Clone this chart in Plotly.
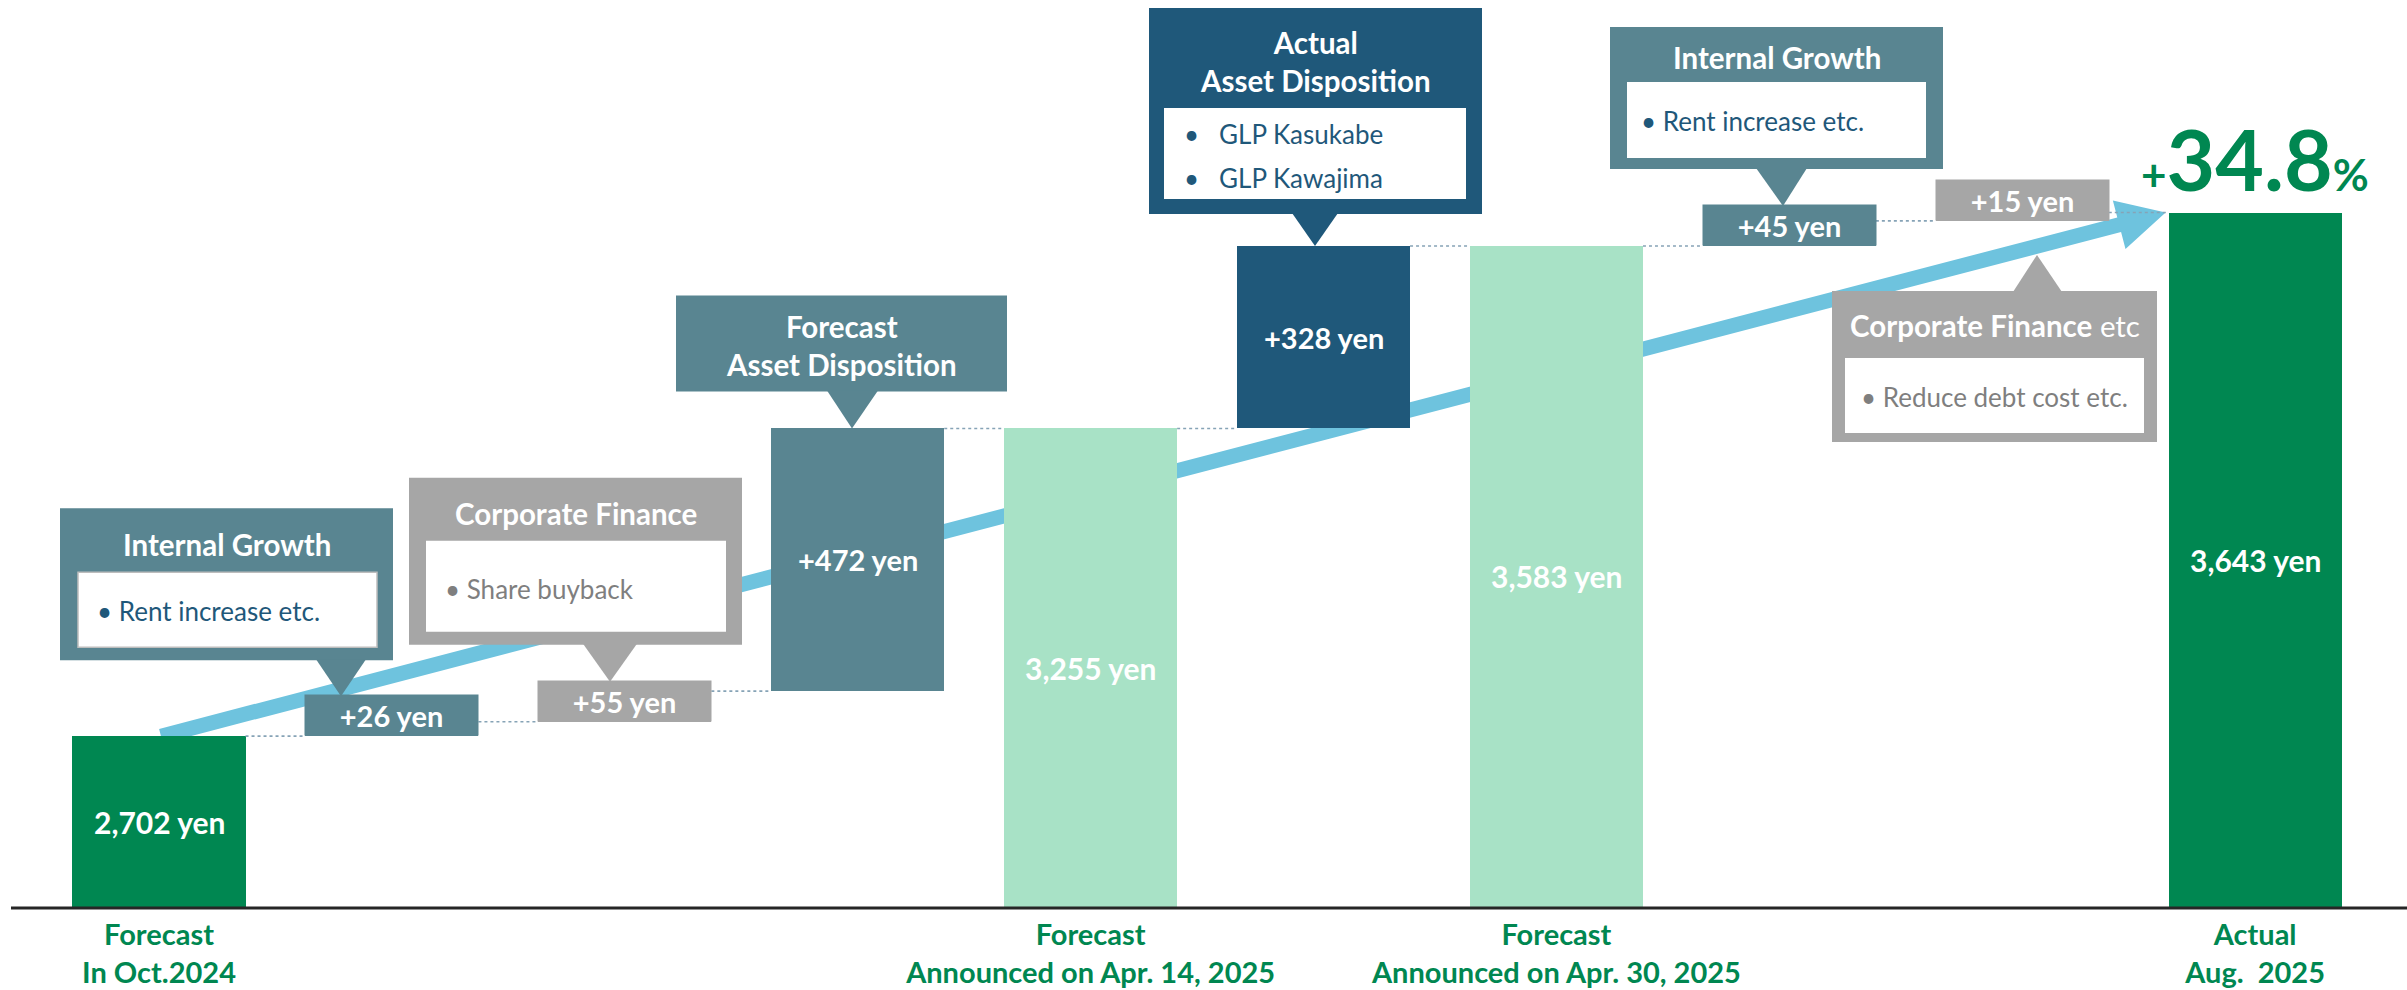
import math
import plotly.graph_objects as go

# ---------------- data ----------------
categories = [
    "Forecast In Oct.2024", "Internal Growth (1)", "Corporate Finance (1)",
    "Forecast Asset Disposition", "Forecast Apr. 14, 2025", "Actual Asset Disposition",
    "Forecast Apr. 30, 2025", "Internal Growth (2)", "Corporate Finance etc", "Actual Aug. 2025",
]
values = [2702, 26, 55, 472, 3255, 328, 3583, 45, 15, 3643]
kinds = ["total", "delta", "delta", "delta", "total", "delta", "total", "delta", "delta", "total"]
tick_labels = [
    "Forecast<br>In Oct.2024", "", "", "",
    "Forecast<br>Announced on Apr. 14, 2025", "",
    "Forecast<br>Announced on Apr. 30, 2025", "", "",
    "Actual<br>Aug.\u00a0 2025",
]

# ---------------- styles ----------------
GREEN = "#008751"
MINT = "#A8E2C6"
TEAL = "#598591"
NAVY = "#1F587A"
GRAY = "#A6A6A6"
ARROW = "#6EC3DE"
bar_colors = [GREEN, TEAL, GRAY, TEAL, MINT, NAVY, MINT, TEAL, GRAY, GREEN]
FONT = "Lato"

W, H = 2407, 990
PLOT_H = 907
Y_MIN, Y_MAX = 2395, 4025
X_MIN, X_MAX = -0.6827, 9.652
BAR_W = 0.743
SLOT_PX = W / (X_MAX - X_MIN)

# ---------------- waterfall geometry from data ----------------
bases, tops = [], []
running = 0
for v, k in zip(values, kinds):
    if k == "total":
        bases.append(0)
        running = v
    else:
        bases.append(running)
        running += v
    tops.append(running)


def ypx(v):
    return PLOT_H - (v - Y_MIN) * PLOT_H / (Y_MAX - Y_MIN)


def xpx(i):
    return (i - X_MIN) * SLOT_PX


def fx(p):
    return p / W


def fy(p):
    return 1 - p / H


xs = list(range(len(values)))
fig = go.Figure()
fig.add_trace(go.Bar(
    x=xs, y=values, base=bases, width=BAR_W,
    marker=dict(color=bar_colors, line=dict(width=0)),
    hovertext=categories, hoverinfo="text+y",
))

# connectors
cx, cy = [], []
for i in range(len(values) - 1):
    cx += [i + BAR_W / 2, i + 1 - BAR_W / 2, None]
    cy += [tops[i], tops[i], None]
fig.add_trace(go.Scatter(x=cx, y=cy, mode="lines",
                         line=dict(color="#86A3B6", width=1.6, dash="dot"),
                         hoverinfo="skip"))

shapes, annotations = [], []

# labels
BADGE_H, BADGE_PAD = 34, 3
BADGE_TOTAL = BADGE_H + 2 * BADGE_PAD
thin = []
for i, (v, k) in enumerate(zip(values, kinds)):
    if k == "total":
        txt = f"{v:,} yen"
        mid = (Y_MIN + v) / 2
        size = 30
    else:
        txt = f"+{v} yen"
        mid = bases[i] + v / 2
        size = 29
    hpx = ypx(bases[i] if k == "delta" else Y_MIN) - ypx(tops[i])
    is_thin = hpx < 60
    thin.append(is_thin)
    ann = dict(x=i, y=mid, xref="x", yref="y", text=txt, showarrow=False,
               font=dict(family=FONT, size=size, color="white", weight="bold"),
               xanchor="center", yanchor="middle")
    if is_thin:
        # label tag sitting on the step's base level
        ann.update(y=bases[i], yanchor="bottom", bgcolor=bar_colors[i], borderpad=BADGE_PAD,
                   width=BAR_W * SLOT_PX - 2 * BADGE_PAD, height=BADGE_H)
    annotations.append(ann)


def visual_top(i):
    if thin[i]:
        return ypx(bases[i]) - BADGE_TOTAL
    return ypx(tops[i])


def visual_bottom(i):
    if thin[i]:
        return ypx(bases[i])
    return ypx(bases[i])


# growth percentage
pct = (values[-1] / values[0] - 1) * 100
annotations.append(dict(
    x=len(values) - 1, y=tops[-1], xref="x", yref="y", yanchor="bottom", yshift=2,
    showarrow=False,
    text=f"<span style='font-size:44px'>+</span>{pct:.1f}<span style='font-size:44px'>%</span>",
    font=dict(family=FONT, size=84, color=GREEN, weight="bold"),
))

# big arrow (below bars)
sx, sy = xpx(0) + 2, ypx(values[0])
tx, ty = xpx(len(values) - 1) - BAR_W / 2 * SLOT_PX - 3, ypx(tops[-1])
dx, dy = tx - sx, ty - sy
L = math.hypot(dx, dy)
ux, uy = dx / L, dy / L
nx, ny = -uy, ux
HEAD_L, HEAD_HW, SHAFT_HW = 48, 25, 7.5
bx, by = tx - HEAD_L * ux, ty - HEAD_L * uy
pts = [
    (sx + SHAFT_HW * nx, sy + SHAFT_HW * ny),
    (bx + SHAFT_HW * nx, by + SHAFT_HW * ny),
    (bx + HEAD_HW * nx, by + HEAD_HW * ny),
    (tx, ty),
    (bx - HEAD_HW * nx, by - HEAD_HW * ny),
    (bx - SHAFT_HW * nx, by - SHAFT_HW * ny),
    (sx - SHAFT_HW * nx, sy - SHAFT_HW * ny),
]
path = "M " + " L ".join(f"{fx(px_):.5f},{fy(py_):.5f}" for px_, py_ in pts) + " Z"
shapes.append(dict(type="path", path=path, xref="paper", yref="paper",
                   fillcolor=ARROW, line=dict(width=0), layer="below"))

# baseline
shapes.append(dict(type="line", xref="paper", yref="paper", x0=fx(11), x1=1,
                   y0=fy(PLOT_H + 1), y1=fy(PLOT_H + 1),
                   line=dict(color="#262626", width=3)))


def rect(x0, y0, x1, y1, color, line=None):
    d = dict(type="rect", xref="paper", yref="paper", x0=fx(x0), x1=fx(x1),
             y0=fy(y1), y1=fy(y0), fillcolor=color, line=dict(width=0))
    if line:
        d["line"] = line
    shapes.append(d)


def tri(p, color):
    pth = "M " + " L ".join(f"{fx(a):.5f},{fy(b):.5f}" for a, b in p) + " Z"
    shapes.append(dict(type="path", path=pth, xref="paper", yref="paper",
                       fillcolor=color, line=dict(width=0)))


def label(x, y, s, size, color, xanchor="center", bold=False):
    annotations.append(dict(x=fx(x), y=fy(y), xref="paper", yref="paper", text=s,
                            showarrow=False, xanchor=xanchor, yanchor="middle",
                            font=dict(family=FONT, size=size, color=color,
                                      weight="bold" if bold else "normal")))


callouts = [
    dict(target=1, x0=60, x1=393, h=152, color=TEAL, inner=(78, 377, 64, 139),
         header="<b>Internal Growth</b>", hc=36,
         bullets=[("• Rent increase etc.", 95, 103, NAVY, "left")],
         ptr=(316, 366, 341), ph=36, up=False, border=True),
    dict(target=2, x0=409, x1=742, h=167, color=GRAY, inner=(426, 726, 63, 154),
         header="<b>Corporate Finance</b>", hc=36,
         bullets=[("• Share buyback", 443, 111, "#7F7F7F", "left")],
         ptr=(583, 637, 610), ph=37, up=False, border=False),
    dict(target=3, x0=676, x1=1007, h=96, color=TEAL, inner=None,
         header="<b>Forecast<br>Asset Disposition</b>", hc=50,
         bullets=[], ptr=(827, 878, 852), ph=37, up=False, border=False),
    dict(target=5, x0=1149, x1=1482, h=206, color=NAVY, inner=(1164, 1466, 100, 191),
         header="<b>Actual<br>Asset Disposition</b>", hc=54,
         bullets=[("•\u00a0\u00a0 GLP Kasukabe", 1182, 126, NAVY, "left"),
                  ("•\u00a0\u00a0 GLP Kawajima", 1182, 170, NAVY, "left")],
         ptr=(1292, 1338, 1315), ph=32, up=False, border=False),
    dict(target=7, x0=1610, x1=1943, h=142, color=TEAL, inner=(1627, 1926, 55, 131),
         header="<b>Internal Growth</b>", hc=31,
         bullets=[("• Rent increase etc.", 1639, 94, NAVY, "left")],
         ptr=(1756, 1807, 1783), ph=37, up=False, border=False),
    dict(target=8, x0=1832, x1=2157, h=151, color=GRAY, inner=(1845, 2144, 67, 142),
         header="<b>Corporate Finance</b> etc", hc=35,
         bullets=[("• Reduce debt cost etc.", 1994, 106, "#7F7F7F", "center")],
         ptr=(2013, 2062, 2037), ph=36, up=True, gap=34, border=False),
]

for c in callouts:
    i = c["target"]
    if c["up"]:
        tip_y = visual_bottom(i) + c.get("gap", 0)
        top = tip_y + c["ph"]
        bottom = top + c["h"]
    else:
        tip_y = visual_top(i)
        bottom = tip_y - c["ph"]
        top = bottom - c["h"]
    rect(c["x0"], top, c["x1"], bottom, c["color"])
    if c["inner"]:
        ix0, ix1, it, ib = c["inner"]
        if c["border"]:
            rect(ix0, top + it, ix1, top + ib, "white",
                 line=dict(color="#BDBDBD", width=1.5))
        else:
            rect(ix0, top + it, ix1, top + ib, "white")
    b0, b1, tpx = c["ptr"]
    if c["up"]:
        tri([(b0, top + 1), (b1, top + 1), (tpx, tip_y)], c["color"])
    else:
        tri([(b0, bottom - 1), (b1, bottom - 1), (tpx, tip_y)], c["color"])
    label((c["x0"] + c["x1"]) / 2, top + c["hc"], c["header"], 29.5, "white")
    for txt, bxp, byo, col, anc in c["bullets"]:
        label(bxp, top + byo, txt, 26, col, xanchor=anc)

fig.update_layout(
    width=W, height=H,
    margin=dict(l=0, r=0, t=0, b=0),
    paper_bgcolor="white", plot_bgcolor="rgba(0,0,0,0)",
    showlegend=False, bargap=0,
    shapes=shapes, annotations=annotations,
    xaxis=dict(range=[X_MIN, X_MAX], tickmode="array", tickvals=xs, ticktext=tick_labels,
               showgrid=False, zeroline=False, showline=False, ticks="",
               automargin=False, fixedrange=True, ticklabelstandoff=8,
               tickfont=dict(family=FONT, size=29, color=GREEN, weight="bold")),
    yaxis=dict(range=[Y_MIN, Y_MAX], domain=[1 - PLOT_H / H, 1], visible=False,
               fixedrange=True),
)

fig.write_html("out.html", config={"displayModeBar": False},
               post_script="document.body.style.margin='0px';")
